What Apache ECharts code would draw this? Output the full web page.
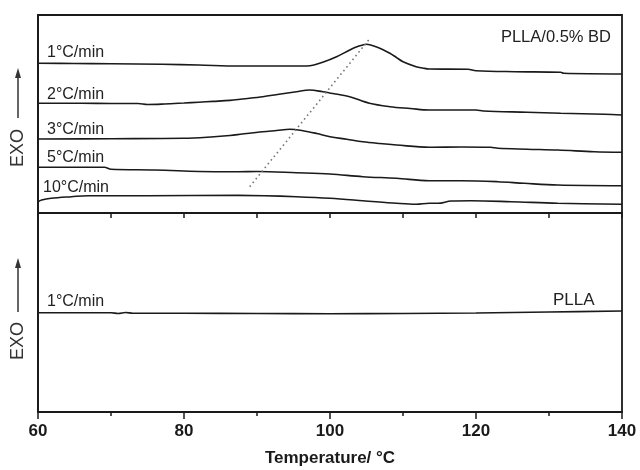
<!DOCTYPE html>
<html>
<head>
<meta charset="utf-8">
<script src="https://cdn.jsdelivr.net/npm/echarts@6/dist/echarts.min.js"></script>
<style>
  html, body { margin: 0; padding: 0; background: #fff; }
  #chart { width: 640px; height: 470px; }
</style>
</head>
<body>
<div id="chart"></div>
<script>
// PLLA/0.5% BD, one curve per cooling rate (temperature / EXO signal, arbitrary units)
var rateLabels = ['1°C/min', '2°C/min', '3°C/min', '5°C/min', '10°C/min'];

var rate1T = [60, 65, 70, 77, 82, 87.4, 92, 96.8, 97.8, 99, 100.9, 102.7, 103.6, 104.5, 105, 106.3, 107.2, 108.2, 109.1, 110, 111.8, 112.7, 113.6, 118.9, 120, 125.3, 131.6, 132, 140];
var rate1Y = [149.7, 149.5, 149.2, 148.7, 148, 147, 147, 147, 148, 150.7, 156.3, 163, 166, 168, 168.7, 166.3, 163.5, 159.7, 155.5, 151.3, 146.3, 145, 144, 143.7, 142.3, 141.3, 140.7, 139.7, 139];

var rate2T = [60, 66, 70, 73.7, 75, 77.3, 80, 82, 84, 86.3, 88, 90.8, 93, 95.4, 97.2, 99, 100.8, 102.7, 105.4, 108.2, 111, 113.6, 120, 121, 127, 131.6, 137.6, 140];
var rate2Y = [109.7, 109.7, 109.5, 109.5, 108.5, 109, 110, 110.8, 111.6, 112.6, 114, 116.3, 118.8, 121.3, 123, 121.3, 119, 116.3, 109.7, 106.3, 104.5, 103, 103, 102, 100.7, 99.7, 98.7, 98];

var rate3T = [60, 70, 80, 83.7, 86.3, 88, 90.8, 92.7, 94.5, 96.3, 98.2, 100, 102.3, 104.5, 106.8, 109.1, 113.6, 118, 122, 123, 127, 131.2, 136.2, 140];
var rate3Y = [74, 74.3, 74.7, 76, 77.5, 79, 81.3, 82.5, 83.7, 82.3, 79.5, 76.3, 73.8, 71.3, 69.5, 68, 65.7, 66, 65.7, 64.7, 63.8, 63, 61.3, 60.7];

var rate5T = [60, 69.1, 70, 76, 84.2, 87.4, 90, 95.4, 100, 104.5, 109.1, 113.6, 118, 123, 126.6, 131.2, 140];
var rate5Y = [45.7, 45.7, 43.7, 43, 41.3, 41.3, 41.5, 40.3, 39, 36.3, 34.7, 32.3, 32.3, 31.3, 29.7, 28, 27.3];

var rate10T = [60, 60.5, 61.8, 64.6, 66.8, 75, 87.4, 91, 95.4, 100, 104.5, 109.1, 111.8, 113.6, 114.8, 116.6, 119.3, 124.8, 131.2, 140];
var rate10Y = [11.3, 13, 14.7, 16.3, 17.3, 17.3, 17.6, 17.3, 16.3, 14.7, 12.3, 9.7, 8.7, 9.7, 9.7, 12, 12.3, 11.3, 9.7, 8.7];

// peak-position guide (dotted)
var peakGuideT = [89.0, 105.3];
var peakGuideY = [26.3, 173];

// neat PLLA, 1 °C/min
var pllaT = [60, 70, 71, 72, 73, 80, 90, 100, 110, 120, 130, 140];
var pllaY = [99.3, 99.3, 98.5, 99.5, 98.8, 98.7, 98.5, 98.3, 98.5, 99, 100, 101];

var xTicks = [60, 80, 100, 120, 140];

function zip(xs, ys) {
    var out = [];
    for (var i = 0; i < xs.length; i++) out.push([xs[i], ys[i]]);
    return out;
}

var FONT = "'Liberation Sans', Arial, sans-serif";
var INK = '#1a1a1a';

function curve(name, xs, ys, idx) {
    return {
        name: name,
        type: 'line',
        xAxisIndex: idx,
        yAxisIndex: idx,
        data: zip(xs, ys),
        showSymbol: false,
        smooth: 0.35,
        lineStyle: { color: INK, width: 1.6 },
        silent: true
    };
}

function label(text, x, y, size, align) {
    return {
        type: 'text',
        x: x, y: y,
        style: {
            text: text,
            font: size + 'px ' + FONT,
            fill: '#222',
            textAlign: align || 'left',
            textVerticalAlign: 'middle'
        }
    };
}

function exoMark(cx, textY, lineTop, lineBottom) {
    return [
        {
            type: 'text', x: cx, y: textY, rotation: Math.PI / 2,
            style: { text: 'EXO', font: '18px ' + FONT, fill: '#333', textAlign: 'center', textVerticalAlign: 'middle' }
        },
        { type: 'line', shape: { x1: cx, y1: lineBottom, x2: cx, y2: lineTop + 6 }, style: { stroke: '#333', lineWidth: 1.5 } },
        { type: 'polygon', shape: { points: [[cx, lineTop - 2], [cx - 3, lineTop + 8], [cx + 3, lineTop + 8]] }, style: { fill: '#333' } }
    ];
}

var chart = echarts.init(document.getElementById('chart'), null, { renderer: 'canvas' });

var option = {
    animation: false,
    backgroundColor: '#fff',
    grid: [
        { left: 38, right: 18, top: 15, height: 198, show: true, borderColor: INK, borderWidth: 1.8 },
        { left: 38, right: 18, top: 213, height: 199, show: true, borderColor: INK, borderWidth: 1.8 }
    ],
    xAxis: [
        {
            gridIndex: 0, type: 'value', min: 60, max: 140, interval: 10,
            axisLine: { lineStyle: { color: INK, width: 1.8 } },
            axisTick: { show: true, inside: false, length: 5, lineStyle: { color: INK, width: 1.5 } },
            axisLabel: { show: false },
            splitLine: { show: false }
        },
        {
            gridIndex: 1, type: 'value', min: 60, max: 140, interval: 20,
            axisLine: { lineStyle: { color: INK, width: 1.8 } },
            axisTick: { show: true, inside: false, length: 7, lineStyle: { color: INK, width: 1.5 } },
            minorTick: { show: true, splitNumber: 2, length: 4, lineStyle: { color: INK, width: 1.5 } },
            axisLabel: {
                color: INK, fontFamily: FONT, fontSize: 17, fontWeight: 'bold', margin: 11,
                formatter: function (v) { return xTicks.indexOf(v) >= 0 ? String(v) : ''; }
            },
            splitLine: { show: false },
            name: 'Temperature/ °C',
            nameLocation: 'middle',
            nameGap: 38,
            nameTextStyle: { color: INK, fontFamily: FONT, fontSize: 17, fontWeight: 'bold' }
        }
    ],
    yAxis: [
        {
            gridIndex: 0, type: 'value', min: 0, max: 198,
            axisLine: { show: true, lineStyle: { color: INK, width: 1.8 } },
            axisTick: { show: false }, axisLabel: { show: false }, splitLine: { show: false }
        },
        {
            gridIndex: 1, type: 'value', min: 0, max: 199,
            axisLine: { show: true, lineStyle: { color: INK, width: 1.8 } },
            axisTick: { show: false }, axisLabel: { show: false }, splitLine: { show: false }
        }
    ],
    series: [
        curve(rateLabels[0], rate1T, rate1Y, 0),
        curve(rateLabels[1], rate2T, rate2Y, 0),
        curve(rateLabels[2], rate3T, rate3Y, 0),
        curve(rateLabels[3], rate5T, rate5Y, 0),
        curve(rateLabels[4], rate10T, rate10Y, 0),
        {
            name: 'peak', type: 'line', xAxisIndex: 0, yAxisIndex: 0,
            data: zip(peakGuideT, peakGuideY), showSymbol: false, silent: true,
            lineStyle: { color: '#777', width: 1.6, type: [1.6, 3.2] }
        },
        curve('PLLA', pllaT, pllaY, 1)
    ],
    graphic: [
        label(rateLabels[0], 47, 53, 16),
        label(rateLabels[1], 47, 95, 16),
        label(rateLabels[2], 47, 130, 16),
        label(rateLabels[3], 47, 158, 16),
        label(rateLabels[4], 43, 188, 16),
        label('PLLA/0.5% BD', 611, 37, 16.5, 'right'),
        label('1°C/min', 47, 302, 16),
        label('PLLA', 553, 300, 17)
    ].concat(exoMark(18, 148, 70, 118)).concat(exoMark(18, 341, 260, 312))
};

chart.setOption(option);
</script>
</body>
</html>
